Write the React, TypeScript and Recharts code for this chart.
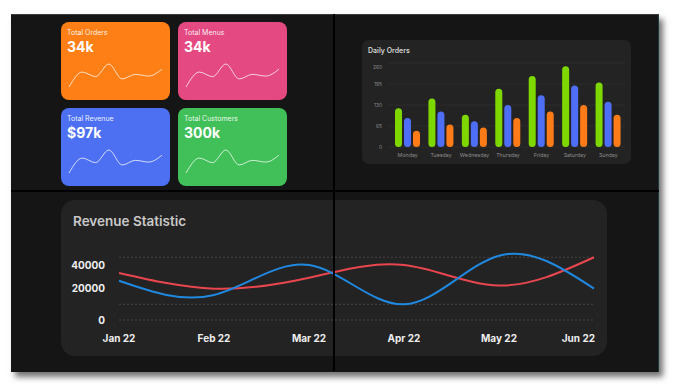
import { BarChart, Bar, LineChart, Line, XAxis, YAxis, CartesianGrid, ReferenceLine } from 'recharts'

const CARD_TITLES = ['Total Orders', 'Total Menus', 'Total Revenue', 'Total Customers']
const CARD_VALUES = ['34k', '34k', '$97k', '300k']
const SPARK = [20, 46, 38, 60, 34, 42, 39, 51]

const DAYS = ['Monday', 'Tuesday', 'Wednesday', 'Thursday', 'Friday', 'Saturday', 'Sunday']
const ORDERS_A = [120, 150, 100, 180, 220, 250, 200]
const ORDERS_B = [90, 110, 80, 130, 160, 190, 140]
const ORDERS_C = [50, 70, 60, 90, 110, 130, 100]
const DAILY_TICKS = [0, 65, 130, 195, 260]

const MONTHS = ['Jan 22', 'Feb 22', 'Mar 22', 'Apr 22', 'May 22', 'Jun 22']
const REV_BLUE = [25000, 16000, 35000, 10000, 41000, 20000]
const REV_RED = [30000, 20000, 27000, 35000, 22000, 40000]
const REV_TICKS = [0, 20000, 40000]
const REV_GRID = [0, 10000, 40000]

const CARD_COLORS = ['#fd7f15', '#e44a81', '#4c70f1', '#41bf58']
const FONT = 'Inter, "Open Sans", sans-serif'

const sparkData = SPARK.map((v, i) => ({ i, v }))
const dailyData = DAYS.map((d, i) => ({ day: d, a: ORDERS_A[i], b: ORDERS_B[i], c: ORDERS_C[i] }))
const revData = MONTHS.map((m, i) => ({ month: m, blue: REV_BLUE[i], red: REV_RED[i] }))

function StatCard({ title, value, color, left, top }: { title: string; value: string; color: string; left: number; top: number }) {
  return (
    <div style={{ position: 'absolute', left, top, width: 109, height: 78, borderRadius: 8, backgroundColor: color, overflow: 'hidden' }}>
      <div style={{ position: 'absolute', left: 6, top: 7.3, fontSize: 7, lineHeight: 1, color: 'rgba(255,255,255,0.92)' }}>{title}</div>
      <div style={{ position: 'absolute', left: 6, top: 17.5, fontSize: 14, lineHeight: 1, fontWeight: 700, color: '#fff' }}>{value}</div>
      <div style={{ position: 'absolute', left: 0, top: 0 }}>
        <LineChart width={109} height={78} data={sparkData} margin={{ top: 42, right: 8, bottom: 13, left: 8 }}>
          <XAxis dataKey="i" hide />
          <YAxis hide domain={['dataMin', 'dataMax']} />
          <Line type="monotone" dataKey="v" stroke="rgba(255,255,255,0.75)" strokeWidth={1} dot={false} isAnimationActive={false} />
        </LineChart>
      </div>
    </div>
  )
}

function DailyYTick({ x, y, payload }: any) {
  const shift = payload.value === 260 ? 4 : 0
  return (
    <text x={x} y={y + shift} dy="0.355em" textAnchor="end" fill="#8d8d8d" fontSize={4.8} fontFamily={FONT}>
      {payload.value}
    </text>
  )
}

function RevYTick({ x, y, payload }: any) {
  const shift = payload.value === 40000 ? 8 : 0
  return (
    <text x={x} y={y + shift} dy="0.355em" textAnchor="end" fill="#eeeeee" fontSize={10} fontWeight={700} fontFamily={FONT}>
      {payload.value}
    </text>
  )
}

function RevXTick({ x, y, payload, index }: any) {
  const last = index === MONTHS.length - 1
  return (
    <text x={last ? x + 1 : x} y={y} dy="0.71em" textAnchor={last ? 'end' : 'middle'} fill="#eeeeee" fontSize={10} fontWeight={700} fontFamily={FONT}>
      {payload.value}
    </text>
  )
}

export default function App() {
  return (
    <div style={{ position: 'absolute', left: 0, top: 0, width: 676, height: 390, background: '#fff', overflow: 'hidden', fontFamily: FONT }}>
      <div
        style={{
          position: 'absolute',
          left: 11,
          top: 14,
          width: 647,
          height: 357,
          backgroundColor: '#151515',
          borderTop: '1px solid #3c3c3c',
          borderRight: '1px solid #1c3a40',
          boxShadow: '4px 5px 6px rgba(0,0,0,0.55)',
        }}
      />

      {CARD_TITLES.map((t, i) => (
        <StatCard
          key={t}
          title={t}
          value={CARD_VALUES[i]}
          color={CARD_COLORS[i]}
          left={i % 2 === 0 ? 61 : 178}
          top={i < 2 ? 22 : 108}
        />
      ))}

      <div style={{ position: 'absolute', left: 362, top: 40, width: 269, height: 124, borderRadius: 7, backgroundColor: '#232323' }}>
        <div style={{ position: 'absolute', left: 6, top: 6.5, fontSize: 7, lineHeight: 1, fontWeight: 600, color: '#d2d2d2' }}>
          Daily Orders
        </div>
        <div style={{ position: 'absolute', left: 0, top: 0 }}>
          <BarChart width={269} height={124} data={dailyData} margin={{ top: 23, right: 6, bottom: 5, left: 0 }} barSize={7} barGap={2}>
            <CartesianGrid vertical={false} stroke="#2e2e2e" strokeWidth={0.8} />
            <XAxis
              dataKey="day"
              height={12}
              axisLine={false}
              tickLine={false}
              tickSize={0}
              tickMargin={6}
              padding={{ left: 3, right: 0 }}
              interval={0}
              tick={{ fill: '#8d8d8d', fontSize: 5.3, fontFamily: FONT }}
            />
            <YAxis
              width={26}
              domain={[0, 260]}
              ticks={DAILY_TICKS}
              interval={0}
              axisLine={false}
              tickLine={false}
              tickSize={0}
              tickMargin={6}
              tick={<DailyYTick />}
            />
            <Bar dataKey="a" fill="#7ed800" radius={3.5} isAnimationActive={false} />
            <Bar dataKey="b" fill="#4e6ff5" radius={3.5} isAnimationActive={false} />
            <Bar dataKey="c" fill="#ff7b17" radius={3.5} isAnimationActive={false} />
          </BarChart>
        </div>
      </div>

      <div style={{ position: 'absolute', left: 61, top: 200, width: 546, height: 156, borderRadius: 14, backgroundColor: '#232323' }}>
        <div style={{ position: 'absolute', left: 12, top: 14.5, fontSize: 13.5, lineHeight: 1, fontWeight: 600, color: '#c8c8c8' }}>
          Revenue Statistic
        </div>
        <div style={{ position: 'absolute', left: 0, top: 0 }}>
          <LineChart width={546} height={156} data={revData} margin={{ top: 51, right: 13, bottom: 6, left: 8 }}>
            {REV_GRID.map((v) => (
              <ReferenceLine key={v} y={v} stroke="#444" strokeDasharray="2 2" />
            ))}
            <XAxis dataKey="month" height={30} axisLine={false} tickLine={false} tickSize={0} tickMargin={14.5} interval={0} tick={<RevXTick />} />
            <YAxis width={50} domain={[0, 44000]} ticks={REV_TICKS} interval={0} axisLine={false} tickLine={false} tickSize={0} tickMargin={14} tick={<RevYTick />} />
            <Line type="natural" dataKey="red" stroke="#e8464e" strokeWidth={2} dot={false} isAnimationActive={false} />
            <Line type="natural" dataKey="blue" stroke="#2188e0" strokeWidth={2} dot={false} isAnimationActive={false} />
          </LineChart>
        </div>
      </div>

      <div style={{ position: 'absolute', left: 11, top: 190, width: 648, height: 2, backgroundColor: '#000' }} />
      <div style={{ position: 'absolute', left: 333, top: 14, width: 2, height: 357, backgroundColor: '#000' }} />
    </div>
  )
}
